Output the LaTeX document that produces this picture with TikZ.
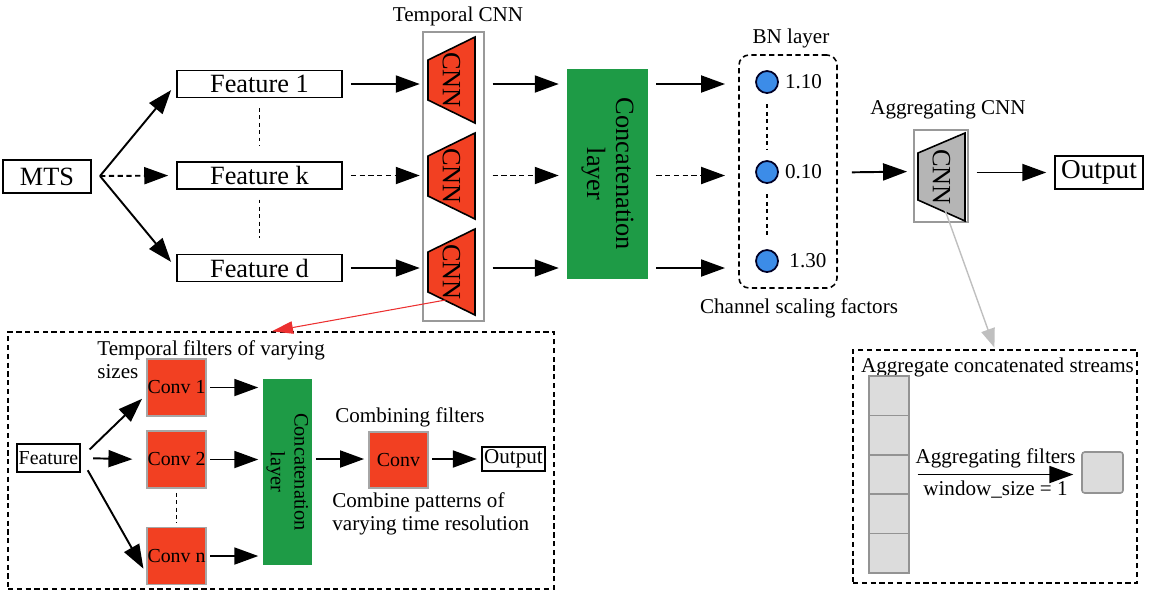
\documentclass[tikz,border=0pt]{standalone}
\usepackage{fontspec}
\setmainfont{Liberation Serif}
\usepackage{graphicx}
\usetikzlibrary{arrows.meta,positioning}

\definecolor{cnnred}{RGB}{242,64,34}
\definecolor{concatgreen}{RGB}{30,155,70}
\definecolor{bnblue}{RGB}{60,140,232}
\definecolor{agggray}{RGB}{181,181,181}
\definecolor{cellgray}{RGB}{220,220,220}
\definecolor{linkred}{RGB}{236,48,48}

\newcommand\largetxt{\fontsize{15}{16.5}\selectfont}
\newcommand\smalltxt{\fontsize{12}{13.3}\selectfont}

\tikzset{
	arr/.style={-{Triangle[length=0.48cm,width=0.34cm]}, line width=1.1pt, shorten <=4.5pt, shorten >=4.5pt},
	darr/.style={arr, dash pattern=on 3pt off 2pt},
	sarr/.style={arr, shorten <=2pt, shorten >=2.5pt},
	dots/.style={line width=1pt, dash pattern=on 2.2pt off 2pt},
	box/.style={draw, line width=1pt, inner sep=0pt},
	featbox/.style={box, minimum width=3.3cm, minimum height=0.54cm, font=\largetxt},
	dashbox/.style={draw, line width=0.9pt, dash pattern=on 3pt off 2pt},
	lbl/.style={font=\smalltxt},
	bncirc/.style={circle, draw=black!85!blue, fill=bnblue, line width=1pt, minimum size=0.44cm, inner sep=0pt},
	convbox/.style={draw=gray!70, fill=cnnred, line width=0.6pt, minimum width=1.18cm, minimum height=1.14cm, inner sep=0pt, font=\fontsize{11.3}{13}\selectfont},
	cell/.style={draw=gray!85, fill=cellgray, line width=0.9pt, minimum width=0.8cm, minimum height=0.788cm, inner sep=0pt}
}

\begin{document}
\begin{tikzpicture}[x=0.02cm, y=-0.02cm]
	\useasboundingbox (0,0) rectangle (1151,600);

	% input and features
	\node[box, minimum width=1.76cm, minimum height=0.66cm, font=\largetxt] (mts) at (47,176.5) {MTS};
	\node[featbox] (f1) at (259.5,84) {Feature 1};
	\node[featbox] (fk) at (259.5,175.5) {Feature k};
	\node[featbox] (fd) at (259.5,268) {Feature d};
	\coordinate (split) at (100,176);
	\draw[arr, shorten <=0pt] (split) -- (f1.west);
	\draw[darr, shorten <=0pt] (split) -- (fk.west);
	\draw[arr, shorten <=0pt] (split) -- (fd.west);
	\draw[dots, shorten <=5.5pt, shorten >=9pt] (f1) -- (fk);
	\draw[dots, shorten <=5.5pt, shorten >=9pt] (fk) -- (fd);

	% temporal CNN
	\node[draw=gray!80, line width=0.9pt, minimum width=1.22cm, minimum height=5.78cm] (tcnn) at (453.5,176.5) {};
	\node[lbl] (tcnnlbl) at (458,16) {Temporal CNN};
	\foreach \n/\y in {a/80,b/176,c/272} {
		\filldraw[fill=cnnred, line width=0.9pt] (428,\y-20) -- (475,\y-43) -- (475,\y+43) -- (428,\y+20) -- cycle;
		\node[inner sep=0pt, minimum width=0.94cm, minimum height=1.72cm, font=\largetxt] (cnn\n) at (451.5,\y) {\rotatebox{-90}{CNN}};
	}
	\draw[arr] (f1.east) -- (f1.east -| cnna.west);
	\draw[darr] (fk.east) -- (fk.east -| cnnb.west);
	\draw[arr] (fd.east) -- (fd.east -| cnnc.west);

	% concatenation
	\node[fill=concatgreen, minimum width=1.62cm, minimum height=4.2cm, inner sep=0pt, font=\largetxt] (concat) at (607.5,174)
		{\rotatebox{-90}{\begin{tabular}{@{}c@{}}Concatenation\\layer\end{tabular}}};
	\draw[arr] (tcnn.east |- f1.east) -- (concat.west |- f1.east);
	\draw[darr] (tcnn.east |- fk.east) -- (concat.west |- fk.east);
	\draw[arr] (tcnn.east |- fd.east) -- (concat.west |- fd.east);

	% BN layer
	\node[dashbox, rounded corners=0.2cm, minimum width=1.96cm, minimum height=4.66cm] (bn) at (788,171.5) {};
	\node[lbl] (bnlbl) at (791,38) {BN layer};
	\node[lbl] (cslbl) at (799,308) {Channel scaling factors};
	\foreach \n/\y/\v/\s in {1/82/1.10/0pt, 2/172/0.10/0pt, 3/261/1.30/2.5pt} {
		\node[bncirc] (c\n) at (767,\y) {};
		\node[lbl, anchor=west, xshift=\s] (v\n) at (c\n.east) {\v};
	}
	\draw[dots, shorten <=6pt, shorten >=6pt] (c1) -- (c2);
	\draw[dots, shorten <=6pt, shorten >=6pt] (c2) -- (c3);
	\draw[arr, shorten >=7.5pt] (concat.east |- f1.east) -- (bn.west |- f1.east);
	\draw[darr, shorten >=7.5pt] (concat.east |- fk.east) -- (bn.west |- fk.east);
	\draw[arr, shorten >=7.5pt] (concat.east |- fd.east) -- (bn.west |- fd.east);

	% aggregating CNN
	\node[draw=gray!80, line width=0.9pt, minimum width=1.08cm, minimum height=1.84cm, inner sep=0pt] (agg) at (941,176) {};
	\filldraw[fill=agggray, line width=0.9pt] (918,153) -- (965,133) -- (965,221) -- (918,200) -- cycle;
	\node[inner sep=0pt, font=\largetxt] (aggcnn) at (941.5,177) {\rotatebox{-90}{CNN}};
	\node[lbl] (agglbl) at (948,110) {Aggregating CNN};
	\node[box, minimum width=1.76cm, minimum height=0.66cm, font=\fontsize{15.5}{17}\selectfont] (out) at (1099,172.5) {Output};
	\draw[arr, shorten <=8pt, shorten >=3.5pt] (bn.east |- out.west) -- (bn.east -| agg.west);
	\draw[arr] (agg.east |- out.west) -- (out.west);

	% temporal filter detail
	\node[dashbox, minimum width=10.92cm, minimum height=5.14cm] (tfbox) at (281,460.5) {};
	\draw[linkred, line width=0.6pt, -{Triangle[length=0.42cm,width=0.25cm]}] ([shift={(-6,28)}]cnnc.center) -- ([xshift=-0.18cm]tfbox.north);
	\node[box, line width=0.9pt, minimum width=1.26cm, minimum height=0.56cm, font=\fontsize{11.3}{13}\selectfont] (feat) at (48.5,458) {Feature};
	\foreach \n/\y/\t in {1/387.5/Conv 1, 2/459.5/Conv 2, n/556/Conv n}
		\node[convbox] (conv\n) at (176.5,\y) {\t};
	\draw[arr, shorten <=7pt, shorten >=3.5pt] (feat.east) -- ([yshift=-0.14cm]conv1.west);
	\draw[arr, shorten <=7pt, shorten >=8pt] (feat.east) -- (conv2.west);
	\draw[arr, shorten <=8pt, shorten >=3.5pt] (feat.east) -- ([yshift=-0.36cm]convn.west);
	\draw[dots, shorten <=2.5pt, shorten >=2.5pt] (conv2) -- (convn);
	\node[fill=concatgreen, minimum width=0.98cm, minimum height=3.72cm, inner sep=0pt, font=\fontsize{11.6}{13.5}\selectfont] (sconcat) at (287.5,472)
		{\rotatebox{-90}{\begin{tabular}{@{}c@{}}Concatenation\\layer\end{tabular}}};
	\draw[sarr] (conv1.east) -- (conv1.east -| sconcat.west);
	\draw[sarr] (conv2.east) -- (conv2.east -| sconcat.west);
	\draw[sarr] (convn.east) -- (convn.east -| sconcat.west);
	\node[convbox, minimum height=1.12cm] (conv) at (398.5,460) {Conv};
	\node[box, line width=0.9pt, minimum width=1.26cm, minimum height=0.48cm, font=\smalltxt] (sout) at (513.5,459) {Output};
	\draw[sarr] (sconcat.east |- sout.west) -- (conv.west |- sout.west);
	\draw[sarr] (conv.east |- sout.west) -- (sout.west);
	\node[lbl, align=left, anchor=west, inner sep=0pt] (tflbl) at (97,359.5) {Temporal filters of varying\\sizes};
	\node[lbl] (cflbl) at (410,417) {Combining filters};
	\node[lbl, align=left, anchor=west, inner sep=0pt] (cplbl) at (332,514) {Combine patterns of\\varying time resolution};

	% aggregation detail
	\node[dashbox, minimum width=5.68cm, minimum height=4.66cm] (aggdetail) at (995,466.5) {};
	\draw[draw=gray!50, line width=0.8pt, -{Triangle[length=0.38cm,width=0.28cm]}, shorten >=1pt] ([shift={(4,34)}]agg.center) -- (aggdetail.north);
	\node[lbl] (adlbl) at (997.5,367) {Aggregate concatenated streams};
	\foreach \i in {0,...,4}
		\node[cell] (cell\i) at (889,{395.7+39.4*\i}) {};
	\node[cell, minimum width=0.82cm, minimum height=0.82cm, rounded corners=1.5pt] (sq) at (1102.5,472.5) {};
	\draw[arr] (cell2.east) -- node[lbl, above] (aflbl) {Aggregating filters} node[lbl, below] (wslbl) {window\_size = 1} (cell2.east -| sq.west);
\end{tikzpicture}
\end{document}
